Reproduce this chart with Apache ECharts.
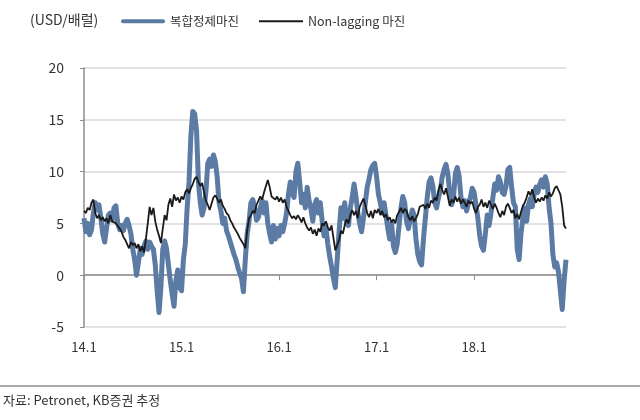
<!DOCTYPE html>
<html>
<head>
<meta charset="utf-8">
<script src="https://cdn.jsdelivr.net/npm/echarts@6/dist/echarts.min.js"></script>
<style>
    html, body { margin: 0; padding: 0; background: #fff; }
    #main { width: 640px; height: 420px; }
</style>
</head>
<body>
<div id="main"></div>
<script>
// 주간 데이터 (2014.1 ~ 2018.12), 단위: USD/배럴
var startDate = '2014-01-03';
var tickLabels = ['14.1', '15.1', '16.1', '17.1', '18.1'];

var complexMargin = [
    5.5, 4.2, 5.0, 3.9, 4.4, 6.0, 7.0, 6.3, 6.8, 5.5,
    4.0, 3.2, 4.5, 5.8, 6.0, 5.3, 6.5, 6.7, 5.0, 4.4,
    4.8, 4.3, 5.0, 5.4, 4.8, 4.0, 2.5, 1.5, 0.0, 1.2,
    2.6, 2.0, 2.8, 3.3, 2.5, 3.2, 2.8, 2.5, 1.0, -1.5,
    -3.6, -1.2, 2.5, 3.3, 2.6, 1.0, -0.5, -1.8, -3.0, -0.5,
    0.5, -1.2, -1.5, 1.5, 3.0, 6.5, 9.0, 13.5, 15.8, 15.6,
    14.0, 9.0, 7.0, 5.8, 6.5, 8.0, 10.8, 11.2, 10.5, 11.6,
    11.0, 9.5, 7.0, 6.2, 5.0, 5.5, 4.3, 3.8, 3.2, 2.6,
    2.0, 1.5, 0.8, 0.2, -0.3, -1.6, 1.5, 4.0, 5.2, 7.0,
    7.3, 6.5, 5.3, 5.6, 6.5, 7.2, 6.0, 7.0, 5.0, 4.0,
    3.2, 4.8, 3.5, 4.5, 3.8, 4.8, 4.2, 5.0, 6.0, 7.8,
    9.0, 8.0, 7.5, 10.0, 10.8, 9.0, 7.0, 7.8, 6.5, 8.5,
    7.2, 6.4, 5.2, 6.8, 7.3, 6.0, 7.0, 5.2, 3.8, 4.6,
    3.0, 1.8, 0.8, -0.3, -1.2, 1.5, 4.2, 6.5, 5.5, 7.0,
    5.0, 4.8, 6.5, 7.5, 8.8, 7.6, 6.0, 5.0, 4.2, 5.5,
    7.0, 8.5, 9.3, 10.2, 10.6, 10.8, 9.5, 7.8, 7.0, 6.0,
    7.0, 5.8, 4.5, 3.5, 5.0, 2.8, 2.2, 3.0, 4.8, 6.5,
    7.6, 7.0, 5.2, 4.5, 5.5, 6.3, 5.8, 3.5, 2.0, 1.3,
    1.0, 3.5, 5.5, 7.5, 9.0, 9.4, 8.6, 7.0, 6.5, 7.5,
    8.2, 9.5, 10.2, 10.7, 9.8, 8.0, 6.8, 7.5, 9.8, 10.4,
    9.6, 7.5, 6.6, 7.2, 6.2, 7.0, 7.5, 8.4, 8.0, 6.8,
    5.5, 3.8, 2.8, 2.4, 4.0, 5.8, 4.8, 6.0, 7.5, 8.8,
    8.2, 9.5, 9.0, 8.0, 7.8, 8.6, 10.2, 10.4, 8.5, 7.0,
    6.6, 2.5, 1.5, 4.0, 5.5, 6.5, 5.2, 6.8, 7.4, 6.6,
    7.8, 8.5, 8.0, 8.8, 9.2, 8.5, 9.5, 8.8, 6.5, 5.0,
    2.0, 0.8, 1.2, 0.3, -1.5, -3.3, -0.5, 1.5
];

var nonLaggingMargin = [
    6.2, 6.0, 6.5, 6.3, 7.0, 7.3, 6.0, 5.5, 5.8, 5.3,
    5.6, 5.2, 5.5, 5.0, 5.8, 5.2, 5.3, 5.0, 5.1, 4.5,
    4.2, 3.7, 3.4, 3.0, 2.6, 3.2, 2.9, 3.1, 2.6, 3.0,
    2.3, 2.8, 2.2, 3.5, 5.0, 6.6, 5.8, 6.5, 5.2, 4.4,
    3.8, 3.1, 4.5, 5.8, 5.3, 6.8, 7.4, 6.6, 7.8, 7.2,
    7.5, 7.0, 7.6, 7.3, 8.0, 8.3, 7.9, 8.4, 8.8, 9.3,
    9.5, 9.0, 8.6, 8.9, 8.0, 7.2, 6.8, 6.3, 6.9, 7.5,
    7.7, 7.4, 7.0, 7.3, 6.7, 6.4, 6.0, 5.8, 5.3, 5.0,
    4.6, 4.3, 4.0, 3.6, 3.3, 3.0, 2.6, 4.3, 5.5, 5.8,
    6.2, 6.0, 6.8, 7.2, 7.6, 7.3, 8.0, 8.6, 9.2, 8.5,
    7.6, 7.5, 7.3, 7.6, 7.1, 7.5, 7.0, 7.3, 6.6, 6.2,
    5.8, 5.5, 5.7, 5.4, 5.8, 5.5, 5.1, 5.6, 5.0, 4.6,
    4.3, 4.6, 4.0, 4.4, 3.8, 4.5, 4.2, 5.0, 4.8, 5.2,
    4.6, 4.3, 4.8, 3.6, 2.4, 2.3, 3.4, 4.3, 4.0, 4.8,
    5.4, 5.0, 5.8, 6.3, 5.8, 6.2, 5.5, 6.6, 7.0, 7.4,
    6.8, 6.0, 5.6, 6.2, 5.5, 6.3, 6.0, 6.4, 5.8, 6.2,
    5.6, 5.9, 5.3, 5.6, 5.1, 5.4, 5.0, 5.8, 6.1, 6.5,
    6.0, 6.4, 6.2, 5.6, 5.3, 5.7, 5.2, 5.5, 5.9, 6.6,
    6.5, 6.8, 6.4, 6.9, 6.5, 7.2, 7.0, 7.5, 7.2, 8.2,
    8.8, 8.2, 7.8, 8.4, 7.6, 6.7, 7.3, 7.0, 7.6, 7.1,
    7.5, 6.9, 7.3, 7.0, 6.6, 7.2, 6.9, 7.1, 6.4, 6.0,
    6.6, 6.8, 7.3, 6.6, 7.0, 6.5, 7.2, 6.8, 6.4, 6.9,
    6.5, 6.0, 5.6, 6.2, 5.8, 6.6, 6.9, 6.5, 6.0, 6.3,
    5.5, 5.9, 5.4, 6.1, 6.7, 7.0, 7.5, 8.1, 7.7, 8.3,
    7.5, 7.0, 7.4, 7.1, 7.5, 7.2, 7.7, 7.4, 8.0, 7.6,
    7.9, 8.4, 8.6, 8.2, 7.8, 6.6, 4.8, 4.5
];

// 주간 날짜 카테고리
var weeks = [];
var t0 = Date.parse(startDate + 'T00:00:00Z');
for (var i = 0; i < complexMargin.length; i++) {
    weeks.push(new Date(t0 + i * 7 * 86400000).toISOString().slice(0, 10));
}

// 1월 1일에 가장 가까운 주인지
function isYearStart(index, value) {
    var t = Date.parse(value + 'T00:00:00Z');
    var y = Number(value.slice(0, 4));
    var d1 = Math.abs(t - Date.UTC(y, 0, 1));
    var d2 = Math.abs(t - Date.UTC(y + 1, 0, 1));
    return Math.min(d1, d2) <= 3.5 * 86400000;
}

function yearLabel(value) {
    var t = Date.parse(value + 'T00:00:00Z');
    var y = new Date(t + 4 * 86400000).getUTCFullYear();
    var label = String(y).slice(2) + '.1';
    return tickLabels.indexOf(label) >= 0 ? label : '';
}

var font = '"Noto Sans CJK KR", "Noto Sans", sans-serif';
var blue = '#5b7ba4';
var black = '#1a1a1a';

var myChart = echarts.init(document.getElementById('main'));

var option = {
    animation: false,
    textStyle: { fontFamily: font },
    title: {
        text: '(USD/배럴)',
        left: 25,
        top: 8,
        textStyle: { fontSize: 14, fontWeight: 'normal', color: '#333', fontFamily: font }
    },
    legend: {
        top: 10,
        left: 116,
        itemWidth: 44,
        itemHeight: 10,
        itemGap: 20,
        textStyle: { fontSize: 12.5, color: '#333', fontFamily: font },
        data: [
            { name: '복합정제마진', icon: 'path://M2,0H42A2,2,0,0,1,42,4H2A2,2,0,0,1,2,0Z' },
            { name: 'Non-lagging 마진', icon: 'path://M0,0H44V2H0Z' }
        ]
    },
    grid: {
        left: 84,
        right: 74,
        top: 68,
        bottom: 93
    },
    xAxis: [{
        type: 'category',
        data: weeks,
        boundaryGap: false,
        axisLine: {
            onZero: true,
            lineStyle: { color: '#8c8c8c', width: 1.5 }
        },
        axisTick: {
            interval: isYearStart,
            length: 5,
            lineStyle: { color: '#8c8c8c' }
        },
        axisLabel: { show: false },
        splitLine: { show: false }
    }, {
        type: 'category',
        data: weeks,
        boundaryGap: false,
        position: 'bottom',
        axisLine: { show: false, onZero: false },
        axisTick: { show: false },
        axisLabel: {
            interval: isYearStart,
            formatter: yearLabel,
            margin: 14,
            fontSize: 13,
            color: '#333',
            fontFamily: font
        },
        splitLine: { show: false }
    }],
    yAxis: [{
        type: 'value',
        min: -5,
        max: 20,
        interval: 5,
        axisLine: {
            show: true,
            lineStyle: { color: '#8c8c8c', width: 1.5 }
        },
        axisTick: {
            show: true,
            length: 4,
            lineStyle: { color: '#8c8c8c' }
        },
        axisLabel: {
            margin: 20,
            fontSize: 14,
            color: '#333',
            fontFamily: font
        },
        splitLine: {
            lineStyle: { color: '#d9d9d9', width: 1.5 }
        }
    }],
    series: [{
        name: '복합정제마진',
        type: 'line',
        data: complexMargin,
        symbol: 'none',
        lineStyle: { color: blue, width: 5, join: 'round' },
        itemStyle: { color: blue }
    }, {
        name: 'Non-lagging 마진',
        type: 'line',
        data: nonLaggingMargin,
        symbol: 'none',
        lineStyle: { color: black, width: 1.8 },
        itemStyle: { color: black }
    }],
    graphic: [{
        type: 'line',
        shape: { x1: 0, y1: 386, x2: 640, y2: 386 },
        style: { stroke: '#555', lineWidth: 1 }
    }, {
        type: 'text',
        left: 3,
        top: 394,
        style: {
            text: '자료: Petronet, KB증권 추정',
            fontSize: 13,
            fill: '#333',
            fontFamily: font
        }
    }]
};

myChart.setOption(option);
</script>
</body>
</html>
